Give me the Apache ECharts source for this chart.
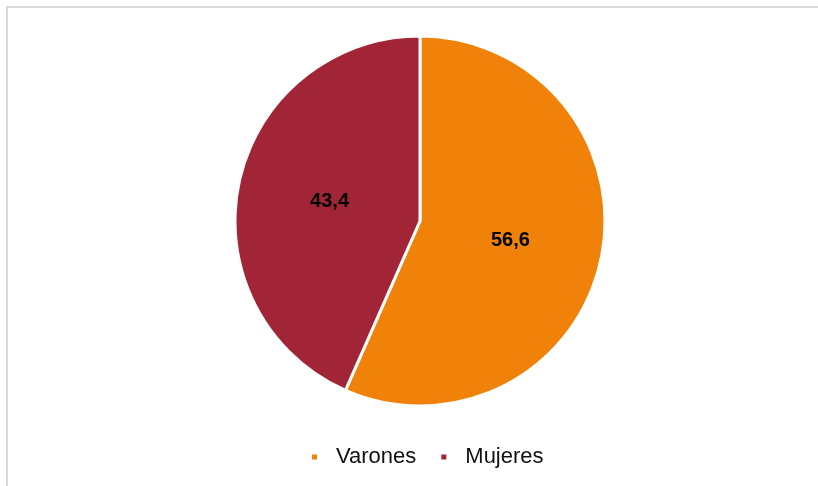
<!DOCTYPE html>
<html>
<head>
<meta charset="utf-8">
<style>
html,body{margin:0;padding:0;background:#fff;}
#c{width:818px;height:486px;}
</style>
<script src="https://cdn.jsdelivr.net/npm/echarts@6/dist/echarts.min.js"></script>
</head>
<body>
<div id="c"></div>
<script>
const categories = ['Varones', 'Mujeres'];
const values = [56.6, 43.4];
const colors = ['#F0820A', '#A12537'];
const labelPads = [[3, 6, 0, 0], [9, 0, 0, 6]];

const chart = echarts.init(document.getElementById('c'), null, {renderer: 'canvas'});
chart.setOption({
  animation: false,
  backgroundColor: '#fff',
  graphic: [{
    type: 'rect',
    shape: {x: 7, y: 7, width: 900, height: 600},
    style: {fill: 'none', stroke: '#d9d9d9', lineWidth: 2},
    silent: true
  }],
  legend: {
    data: categories,
    left: 305,
    top: 441,
    icon: 'rect',
    itemWidth: 7,
    itemHeight: 7,
    itemGap: 23,
    textStyle: {
      fontFamily: 'Liberation Sans, Arial, sans-serif',
      fontSize: 22,
      color: '#111',
      padding: [0, 0, 0, 13]
    }
  },
  series: [{
    type: 'pie',
    center: [420, 221],
    radius: [0, 185],
    startAngle: 90,
    clockwise: true,
    itemStyle: {borderColor: '#fff', borderWidth: 3},
    label: {
      show: true,
      position: 'inside',
      fontFamily: 'Liberation Sans, Arial, sans-serif',
      fontSize: 20,
      fontWeight: 'bold',
      color: '#000',
      formatter: p => String(p.value).replace('.', ',')
    },
    labelLine: {show: false},
    emphasis: {disabled: true},
    data: categories.map((c, i) => ({
      name: c,
      value: values[i],
      itemStyle: {color: colors[i]},
      label: {padding: labelPads[i]}
    }))
  }]
});
</script>
</body>
</html>
